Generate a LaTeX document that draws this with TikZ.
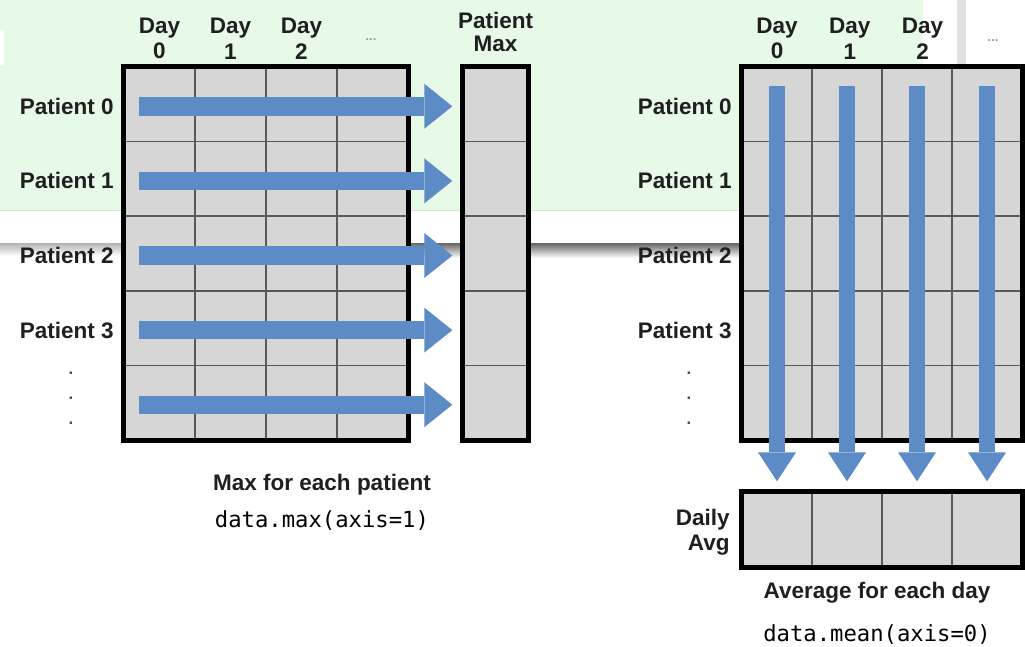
\documentclass[tikz,border=0pt]{standalone}
\usepackage{fontspec}
\setmainfont{Liberation Sans}
\setmonofont{DejaVu Sans Mono}
\usetikzlibrary{arrows.meta}
\definecolor{bggreen}{RGB}{231,250,231}
\definecolor{bgline}{RGB}{208,232,208}
\definecolor{cellgray}{RGB}{214,214,214}
\definecolor{arrowblue}{RGB}{92,139,198}

\begin{document}
\begin{tikzpicture}[
  x=0.025cm, y=-0.025cm,
  cell/.style={draw=black!65, line width=1pt, fill=cellgray, inner sep=0pt, minimum width=1.775cm, minimum height=1.865cm},
  outline/.style={draw=black, line width=3.5pt},
  txt/.style={font=\fontsize{16}{18}\selectfont\bfseries, text=black!88, inner sep=1pt},
  dots/.style={font=\fontsize{9}{10}\selectfont\bfseries, text=black!40, inner sep=0pt},
  vdot/.style={font=\fontsize{12}{12}\selectfont\bfseries, text=black!70, inner sep=0pt},
  codetxt/.style={font=\fontsize{15.8}{18}\selectfont\ttfamily, text=black},
  rowarrow/.style={arrowblue, line width=0.46cm, -{Triangle[width=1.125cm, length=0.7cm, line width=0pt]}},
  colarrow/.style={arrowblue, line width=0.4cm, -{Triangle[width=0.95cm, length=0.725cm, line width=0pt]}}
]
\useasboundingbox (0,0) rectangle (1025,646);

% Backdrop of the screenshot
\fill[bggreen] (0,0) rectangle (923,210);
\draw[bgline, line width=0.5pt] (0,210) -- (923,210);
\fill[white] (0,30) rectangle (4,65);
\fill[black!12] (957,0) rectangle (966,65);
\shade[top color=black!30, bottom color=white] (0,243) rectangle (124,256);
\shade[top color=black!60, bottom color=white] (408,243) rectangle (742,258);

% Left: data matrix and patient max
\foreach \r in {0,...,4}
  \foreach \c in {0,...,3}
    \node[cell] (L-\r-\c) at ({159.5+71*\c}, {104.3+74.6*\r}) {};
\foreach \r in {0,...,4}
  \node[cell, minimum width=1.625cm] (M-\r) at (495.5, {104.3+74.6*\r}) {};

% Right: data matrix and daily average
\foreach \r in {0,...,4}
  \foreach \c in {0,...,3}
    \node[cell, minimum width=1.75cm] (R-\r-\c) at ({777+70*\c}, {104.3+74.6*\r}) {};
\foreach \c in {0,...,3}
  \node[cell, minimum width=1.75cm, minimum height=1.875cm] (D-\c) at ({777+70*\c}, 529.5) {};

\draw[outline] (L-0-0.north west) rectangle (L-4-3.south east);
\draw[outline] (M-0.north west) rectangle (M-4.south east);
\draw[outline] (R-0-0.north west) rectangle (R-4-3.south east);
\draw[outline] (D-0.north west) rectangle (D-3.south east);

% Reduction arrows
\foreach \r in {0,...,4}
  \draw[rowarrow] ([xshift=0.4cm, yshift=-0.05cm]L-\r-0.west) -- ([xshift=-0.25cm, yshift=-0.05cm]M-\r.west);
\foreach \c in {0,...,3}
  \draw[colarrow] ([yshift=-0.5cm]R-0-\c.north) -- ([yshift=0.25cm]D-\c.north);

% Row and column labels
\foreach \r in {0,...,3} {
  \node[txt, anchor=east] (pl-\r) at ([xshift=-0.2cm, yshift=-0.05cm]L-\r-0.west) {Patient \r};
  \node[txt, anchor=east] (pr-\r) at ([xshift=-0.2cm, yshift=-0.05cm]R-\r-0.west) {Patient \r};
}
\foreach \k in {0,1,2} {
  \node[vdot, anchor=base] (vl-\k) at (71, {374+25*\k}) {.};
  \node[vdot, anchor=base] (vr-\k) at (689, {374+25*\k}) {.};
}
\foreach \c in {0,1,2} {
  \node[txt, align=center, anchor=south] (dl-\c) at ([yshift=0.14cm]L-0-\c.north) {Day\\\c};
  \node[txt, align=center, anchor=south] (dr-\c) at ([xshift=0.07cm*\c, yshift=0.14cm]R-0-\c.north) {Day\\\c};
}
\node[dots, anchor=base] (el-l) at (371, 40) {...};
\node[dots, anchor=base] (el-r) at (993, 41) {...};
\node[txt, align=center, anchor=south, font=\fontsize{16}{16}\selectfont\bfseries] (pmax) at ([yshift=0.33cm]M-0.north) {Patient\\Max};
\node[txt, align=right, anchor=east] (davg) at ([xshift=-0.25cm, yshift=-0.06cm]D-0.west) {Daily\\Avg};

% Captions
\node[txt] (maxcap) at (322, 485) {Max for each patient};
\node[codetxt] (maxcode) at (322, 521) {data.max(axis=1)};
\node[txt] (avgcap) at (877, 593) {Average for each day};
\node[codetxt] (avgcode) at (877, 635) {data.mean(axis=0)};
\end{tikzpicture}
\end{document}
